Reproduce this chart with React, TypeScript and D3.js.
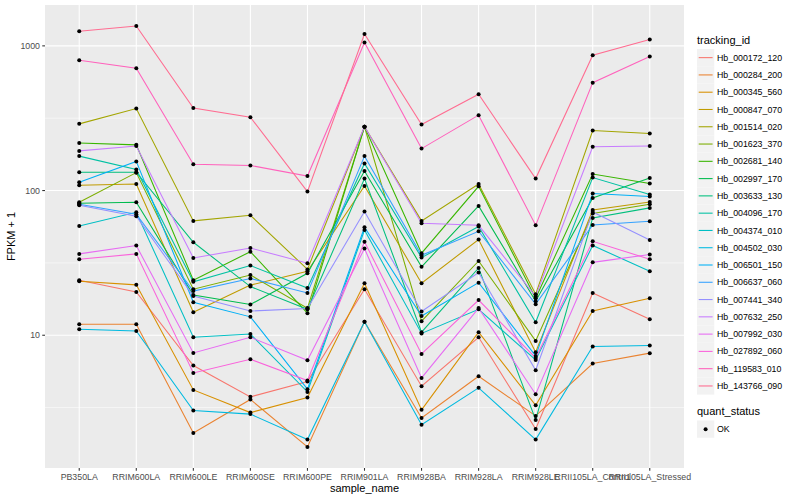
import React from 'react';
import * as d3 from 'd3';

// sample order on the x axis
const samples = [
  'PB350LA', 'RRIM600LA', 'RRIM600LE', 'RRIM600SE', 'RRIM600PE', 'RRIM901LA',
  'RRIM928BA', 'RRIM928LA', 'RRIM928LE', 'RRII105LA_Control', 'RRII105LA_Stressed',
];

const trackingIds = [
  'Hb_000172_120', 'Hb_000284_200', 'Hb_000345_560', 'Hb_000847_070', 'Hb_001514_020',
  'Hb_001623_370', 'Hb_002681_140', 'Hb_002997_170', 'Hb_003633_130', 'Hb_004096_170',
  'Hb_004374_010', 'Hb_004502_030', 'Hb_006501_150', 'Hb_006637_060', 'Hb_007441_340',
  'Hb_007632_250', 'Hb_007992_030', 'Hb_027892_060', 'Hb_119583_010', 'Hb_143766_090',
];

// ggplot default hue palette for 20 levels
const palette = [
  '#F8766D', '#EA8331', '#D89000', '#C09B00', '#A3A500', '#7CAE00', '#39B600', '#00BB4E',
  '#00BF7D', '#00C1A3', '#00BFC4', '#00BAE0', '#00B0F6', '#35A2FF', '#9590FF', '#C77CFF',
  '#E76BF3', '#FA62DB', '#FF62BC', '#FF6C91',
];

// FPKM + 1, one array per tracking_id, in sample order
const hb000172_120 = [24.0, 19.9, 6.18, 3.75, 4.79, 20.8, 4.44, 9.68, 2.25, 19.6, 12.9];
const hb000284_200 = [11.9, 11.9, 2.11, 3.6, 1.69, 12.4, 2.68, 5.21, 2.77, 6.37, 7.52];
const hb000345_560 = [23.6, 22.3, 4.19, 2.92, 3.71, 22.9, 3.05, 10.5, 3.28, 14.7, 18.0];
const hb000847_070 = [108.8, 111, 14.4, 22.2, 27.7, 107.6, 22.9, 45.9, 7.64, 73.5, 83.4];
const hb001514_020 = [289, 369, 61.7, 67.5, 28.5, 276, 61.7, 111, 19.2, 260, 248];
const hb001623_370 = [83.0, 133, 20.8, 26.1, 15.4, 276, 12.5, 32.6, 9.14, 69.4, 80.4];
const hb002681_140 = [213, 207, 24.0, 37.8, 14.2, 276, 36.9, 107, 18.0, 130, 112];
const hb002997_170 = [81.7, 83.0, 19.0, 16.3, 26.8, 136.6, 29.7, 78.3, 17.2, 88.9, 122];
const hb003633_130 = [134, 134, 43.9, 21.7, 15.1, 121, 10.5, 29.2, 2.6, 64.7, 75.9];
const hb004096_170 = [173, 140, 23.4, 30.3, 21.2, 154, 34.4, 56.4, 12.3, 123, 93.8];
const hb004374_010 = [56.9, 70.8, 9.68, 10.2, 4.06, 53.4, 10.3, 15.1, 6.75, 41.7, 27.7];
const hb004502_030 = [11.0, 10.7, 3.02, 2.85, 1.9, 12.4, 2.41, 4.33, 1.9, 8.36, 8.49];
const hb006501_150 = [114, 159, 16.9, 13.4, 4.24, 55.8, 13.6, 23.1, 7.2, 95.3, 90.9];
const hb006637_060 = [80.4, 68.6, 20.2, 24.7, 19.6, 173, 35.7, 52.3, 16.4, 57.8, 61.4];
const hb007441_340 = [79.1, 66.4, 18.7, 14.7, 15.3, 71.6, 14.6, 27.1, 5.73, 71.2, 45.6];
const hb007632_250 = [188, 203, 34.2, 40.1, 31.5, 276, 59.4, 57.5, 18.6, 201, 203];
const hb007992_030 = [36.5, 41.7, 7.55, 9.68, 6.72, 39.7, 5.07, 15.4, 3.91, 31.9, 36.1];
const hb027892_060 = [33.5, 36.5, 5.49, 6.82, 4.87, 44.2, 7.43, 17.5, 6.97, 44.6, 33.5];
const hb119583_010 = [795, 700, 152, 149, 126, 1054, 195, 332, 57.5, 557, 844];
const hb143766_090 = [1262, 1371, 372, 321, 98.4, 1208, 286, 463, 121, 861, 1107];

const fpkm = [
  hb000172_120, hb000284_200, hb000345_560, hb000847_070, hb001514_020,
  hb001623_370, hb002681_140, hb002997_170, hb003633_130, hb004096_170,
  hb004374_010, hb004502_030, hb006501_150, hb006637_060, hb007441_340,
  hb007632_250, hb007992_030, hb027892_060, hb119583_010, hb143766_090,
];

const majorTicks = [10, 100, 1000];
const minorTicks = [Math.sqrt(10), Math.sqrt(1000), Math.sqrt(100000)];

const FONT = '"Liberation Sans", Arial, Helvetica, sans-serif';

const App: React.FC = () => {
  const width = 800;
  const height = 500;
  const left = 45;
  const right = 684;
  const top = 5;
  const bottom = 468;

  const x = d3.scalePoint<string>()
    .domain(samples)
    .range([left, right])
    .padding(0.6);

  // log scale with ggplot's 5% expansion
  const [lo, hi] = d3.extent(fpkm.flat()) as [number, number];
  const llo = Math.log10(lo);
  const lhi = Math.log10(hi);
  const pad = (lhi - llo) * 0.05;
  const y = d3.scaleLog()
    .domain([Math.pow(10, llo - pad), Math.pow(10, lhi + pad)])
    .range([bottom, top]);

  const line = d3.line<number>()
    .x((_, i) => x(samples[i]) as number)
    .y(d => y(d));

  const keyH = 17.28;
  const keyTop = 49;

  return (
    <svg width={width} height={height} style={{ position: 'absolute', left: 0, top: 0, background: '#fff' }}
      fontFamily={FONT}>
      <rect x={left} y={top} width={right - left} height={bottom - top} fill="#EBEBEB" />

      {/* grid */}
      {minorTicks.filter(t => y(t) > top && y(t) < bottom).map(t => (
        <line key={'mn' + t} x1={left} x2={right} y1={y(t)} y2={y(t)} stroke="#fff" strokeWidth={0.53} />
      ))}
      {majorTicks.map(t => (
        <line key={'mj' + t} x1={left} x2={right} y1={y(t)} y2={y(t)} stroke="#fff" strokeWidth={1.07} />
      ))}
      {samples.map(s => (
        <line key={'gx' + s} x1={x(s)} x2={x(s)} y1={top} y2={bottom} stroke="#fff" strokeWidth={1.07} />
      ))}

      {/* series lines */}
      {fpkm.map((vals, i) => (
        <path key={trackingIds[i]} d={line(vals) || ''} fill="none" stroke={palette[i]} strokeWidth={1.07} />
      ))}
      {/* points, quant_status = OK */}
      {fpkm.map((vals, i) => vals.map((v, j) => (
        <circle key={i + '-' + j} cx={x(samples[j])} cy={y(v)} r={2} fill="#000" />
      )))}

      {/* y axis */}
      {majorTicks.map(t => (
        <g key={'yt' + t}>
          <line x1={left - 2.75} x2={left} y1={y(t)} y2={y(t)} stroke="#333" strokeWidth={1.07} />
          <text x={left - 5} y={y(t)} dy="0.35em" textAnchor="end" fontSize={8.8} fill="#4D4D4D">{t}</text>
        </g>
      ))}
      <text transform={`translate(15, ${(top + bottom) / 2}) rotate(-90)`} textAnchor="middle" fontSize={11} fill="#000">
        FPKM + 1
      </text>

      {/* x axis */}
      {samples.map(s => (
        <g key={'xt' + s}>
          <line x1={x(s)} x2={x(s)} y1={bottom} y2={bottom + 2.75} stroke="#333" strokeWidth={1.07} />
          <text x={x(s)} y={480} textAnchor="middle" fontSize={8.8} fill="#4D4D4D">{s}</text>
        </g>
      ))}
      <text x={(left + right) / 2} y={491.5} textAnchor="middle" fontSize={11} fill="#000">sample_name</text>

      {/* legend: tracking_id */}
      <text x={697} y={43.5} fontSize={11} fill="#000">tracking_id</text>
      {trackingIds.map((id, i) => {
        const ky = keyTop + i * keyH;
        return (
          <g key={'lg' + id}>
            <rect x={697} y={ky} width={17.28} height={keyH} fill="#F2F2F2" />
            <line x1={698.7} x2={712.6} y1={ky + keyH / 2} y2={ky + keyH / 2} stroke={palette[i]} strokeWidth={1.07} />
            <text x={717} y={ky + keyH / 2} dy="0.35em" fontSize={8.8} fill="#000">{id}</text>
          </g>
        );
      })}

      {/* legend: quant_status */}
      <text x={697} y={415} fontSize={11} fill="#000">quant_status</text>
      <rect x={697} y={420.5} width={17.28} height={keyH} fill="#F2F2F2" />
      <circle cx={705.6} cy={429.2} r={2} fill="#000" />
      <text x={717} y={429.2} dy="0.35em" fontSize={8.8} fill="#000">OK</text>
    </svg>
  );
};

export default App;
